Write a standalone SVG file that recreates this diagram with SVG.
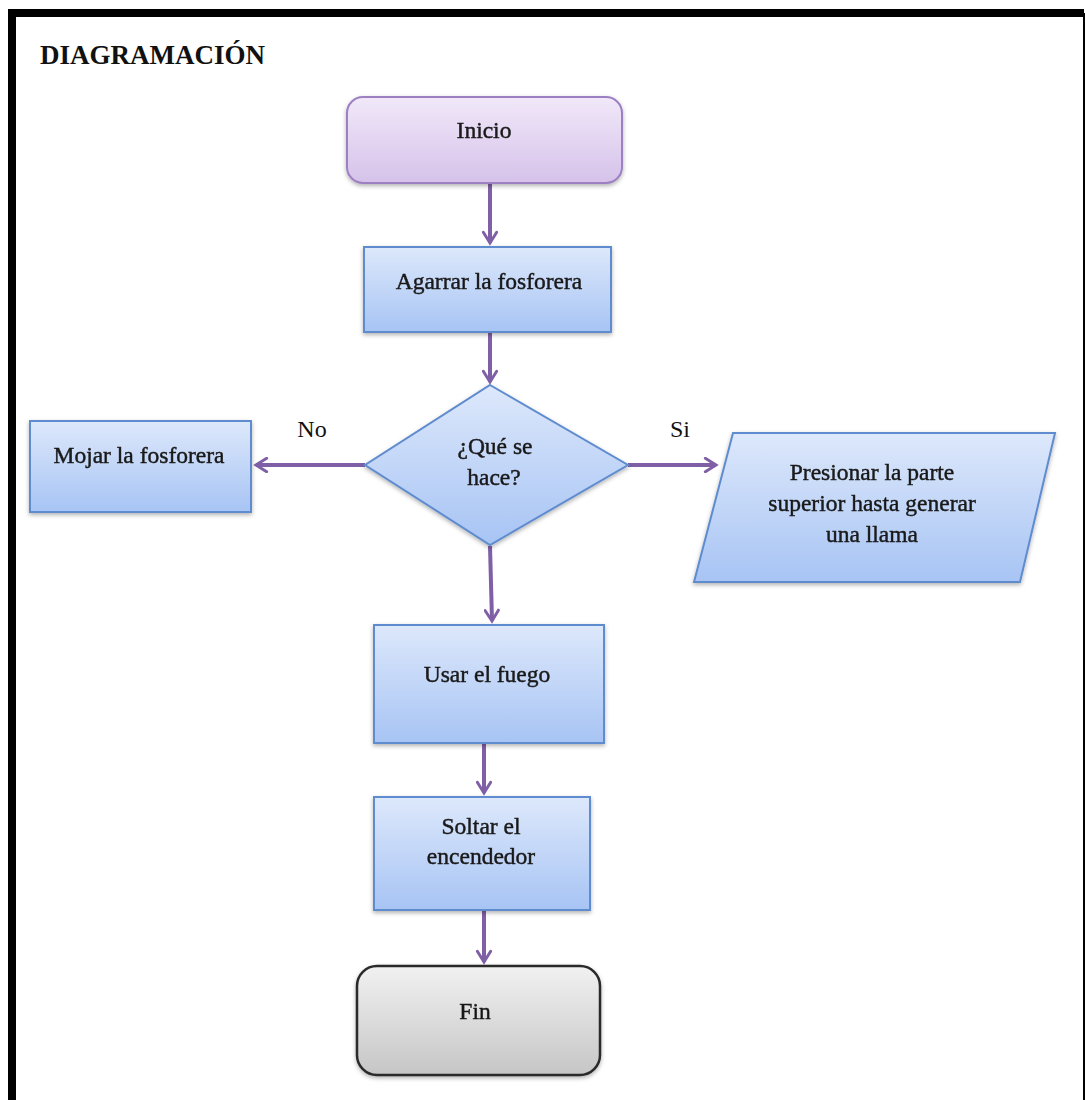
<svg xmlns="http://www.w3.org/2000/svg" width="1085" height="1100" viewBox="0 0 1085 1100">
<style>
.t{font-family:"Liberation Serif","Times New Roman",serif;font-size:23.5px;fill:#1a1a1a;text-anchor:middle;stroke:#1a1a1a;stroke-width:0.45}
.lbl{font-family:"Liberation Serif","Times New Roman",serif;font-size:24px;fill:#111;text-anchor:middle}
.box{fill:url(#gBlue);stroke:#5f8bcf;stroke-width:2}
.conn{stroke:#7f5fa5;stroke-width:4;fill:none;marker-end:url(#arr)}
</style>
<defs>
<linearGradient id="gBlue" x1="0" y1="0" x2="0" y2="1"><stop offset="0" stop-color="#dde8fb"/><stop offset="1" stop-color="#a7c4f4"/></linearGradient>
<linearGradient id="gPurple" x1="0" y1="0" x2="0" y2="1"><stop offset="0" stop-color="#f1e8f9"/><stop offset="1" stop-color="#d6c2ea"/></linearGradient>
<linearGradient id="gGray" x1="0" y1="0" x2="0" y2="1"><stop offset="0" stop-color="#f1f1f1"/><stop offset="1" stop-color="#c6c6c6"/></linearGradient>
<filter id="sh" x="-10%" y="-10%" width="120%" height="130%"><feDropShadow dx="0" dy="2" stdDeviation="2" flood-color="#000" flood-opacity="0.3"/></filter>
<marker id="arr" viewBox="0 0 12 12" refX="10" refY="6" markerWidth="4" markerHeight="4" orient="auto" markerUnits="strokeWidth"><polyline points="2,1 10,6 2,11" fill="none" stroke="#7f5fa5" stroke-width="2.2" stroke-linecap="round"/></marker>
</defs>
<rect width="1085" height="1100" fill="#fff"/>
<path d="M12 1100 V13 H1084" fill="none" stroke="#000" stroke-width="8"/>
<line x1="1084" y1="13" x2="1084" y2="1100" stroke="#000" stroke-width="2"/>
<text x="40" y="64" font-family="Liberation Serif, serif" font-size="27" font-weight="bold" fill="#111">DIAGRAMACIÓN</text>
<g id="connectors">
<line class="conn" x1="490" y1="184" x2="490" y2="243"/>
<line class="conn" x1="490" y1="333" x2="490" y2="382"/>
<line class="conn" x1="365" y1="465" x2="256" y2="465"/>
<line class="conn" x1="628" y1="465" x2="716" y2="465"/>
<line class="conn" x1="490" y1="546" x2="492" y2="621"/>
<line class="conn" x1="484" y1="744" x2="484" y2="793"/>
<line class="conn" x1="484" y1="911" x2="484" y2="962"/>
<text x="312" y="437" class="lbl">No</text>
<text x="680" y="437" class="lbl">Si</text>
</g>
<g id="inicio" filter="url(#sh)"><rect x="347" y="97" width="275" height="86" rx="16" fill="url(#gPurple)" stroke="#9c80c2" stroke-width="2"/><text x="484" y="138" class="t">Inicio</text></g>
<g id="agarrar" filter="url(#sh)"><rect class="box" x="364" y="247" width="247" height="85"/><text x="489" y="289" class="t">Agarrar  la fosforera</text></g>
<g id="decision" filter="url(#sh)"><polygon class="box" points="490,385 628,465 490,545 365,465"/><text x="495" y="454" class="t">¿Qué se</text><text x="494" y="485" class="t">hace?</text></g>
<g id="mojar" filter="url(#sh)"><rect class="box" x="30" y="421" width="221" height="91"/><text x="139" y="463" class="t">Mojar la fosforera</text></g>
<g id="presionar" filter="url(#sh)"><polygon class="box" points="733,433 1055,433 1020,582 694,582"/><text x="872" y="480" class="t">Presionar la parte</text><text x="872" y="511" class="t">superior hasta generar</text><text x="872" y="542" class="t">una llama</text></g>
<g id="usar" filter="url(#sh)"><rect class="box" x="374" y="625" width="230" height="118"/><text x="487" y="682" class="t">Usar el fuego</text></g>
<g id="soltar" filter="url(#sh)"><rect class="box" x="374" y="797" width="216" height="113"/><text x="481" y="834" class="t">Soltar el</text><text x="481" y="864" class="t">encendedor</text></g>
<g id="fin" filter="url(#sh)"><rect x="357" y="966" width="243" height="109" rx="20" fill="url(#gGray)" stroke="#2a2a2a" stroke-width="2.5"/><text x="475" y="1019" class="t">Fin</text></g>
</svg>
